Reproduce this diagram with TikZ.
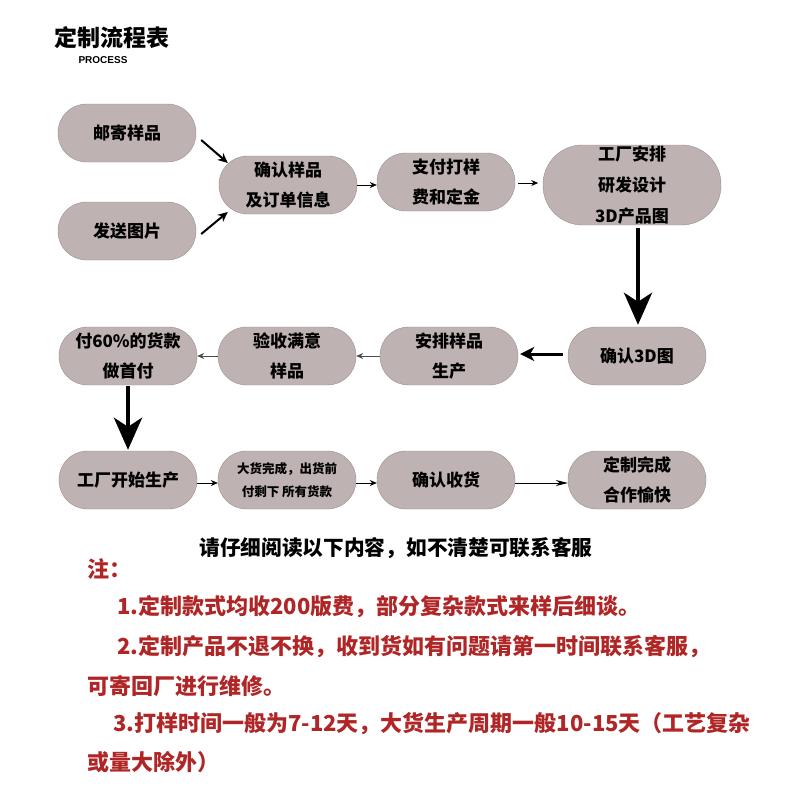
\documentclass[tikz,border=0pt]{standalone}
\usepackage{fontspec}
\setmainfont{Noto Sans CJK SC}
\newfontfamily\latinsans{Liberation Sans}
\usetikzlibrary{arrows.meta,calc}
\definecolor{boxc}{HTML}{BEB2B2}
\definecolor{redt}{HTML}{B02626}
\begin{document}
\begin{tikzpicture}[x=1pt,y=-1pt,
  box/.style={fill=boxc, draw=boxc!80!black, line width=0.4pt, rounded corners=28.5pt,
    minimum width=138pt, minimum height=58pt, align=center, inner sep=0pt,
    font=\fontsize{17}{30}\selectfont\bfseries},
  smalltxt/.style={font=\fontsize{12.5}{23}\selectfont\bfseries},
  thinarr/.style={-{Stealth[length=7pt,width=6pt]}, line width=0.9pt},
  grayarr/.style={-{Stealth[length=7pt,width=6pt]}, line width=0.9pt, draw=black!70},
  medarr/.style={-{Stealth[length=10pt,width=9pt]}, line width=2pt},
  bigarr/.style={-{Stealth[length=32pt,width=28pt,inset=9pt]}, line width=4.5pt},
  leftarr/.style={-{Stealth[length=14pt,width=14pt,inset=4pt]}, line width=3pt},
  redline/.style={anchor=west, inner sep=0pt, text=redt, font=\fontsize{22}{22}\selectfont\bfseries}
]
\useasboundingbox[fill=white] (0,0) rectangle (800,800);

% title
\node[anchor=west, inner sep=0pt, font=\fontsize{23}{23}\selectfont\bfseries] (title) at (54,38) {定制流程表};
\node[inner sep=0pt, font=\latinsans\fontsize{10}{10}\selectfont\bfseries] (proc) at (103,60) {PROCESS};

% row 1
\node[box] (n1) at (127,133) {邮寄样品};
\node[box] (n2) at (127,231) {发送图片};
\node[box] (n3) at (288,185) {确认样品\\及订单信息};
\node[box] (n4) at (446,182) {支付打样\\费和定金};
\node[box, minimum width=178pt, minimum height=80pt, rounded corners=39.5pt,
  font=\fontsize{17}{31}\selectfont\bfseries] (n5) at (632,185) {工厂安排\\研发设计\\3D产品图};

% row 2
\node[box] (n6) at (637,356) {确认3D图};
\node[box] (n7) at (449,356) {安排样品\\生产};
\node[box] (n8) at (287,356) {验收满意\\样品};
\node[box] (n9) at (128,356) {付60\%的货款\\做首付};

% row 3
\node[box] (n10) at (128,480) {工厂开始生产};
\node[box, smalltxt] (n11) at (287,480) {大货完成，出货前\\付剩下 所有货款};
\node[box] (n12) at (446,480) {确认收货};
\node[box] (n13) at (637,480) {定制完成\\合作愉快};

% connectors
\draw[medarr] ($(n1.east)+(5,7)$) -- ($(n3.west)+(9,-22)$);
\draw[medarr] ($(n2.east)+(5,3)$) -- ($(n3.west)+(9,27)$);
\draw[thinarr] (n3.east) -- (n3.east -| n4.west);
\draw[thinarr] ($(n4.east)+(3,1)$) -- ($(n4.east)+(23,1)$) coordinate (a45);
\draw[bigarr] ($(n6.north |- n5.south)+(1,3)$) -- ($(n6.north)+(1,-2)$);
\draw[leftarr] ($(n6.west)+(-5,-2)$) -- ($(n7.east)+(2,-2)$);
\draw[grayarr] (n7.west) -- (n8.east);
\draw[grayarr] (n8.west) -- (n9.east);
\draw[bigarr] ($(n9.south)+(0,1)$) -- ($(n10.north)+(0,-1)$);
\draw[thinarr] ($(n10.east)+(0,3)$) -- ($(n11.west)+(0,3)$);
\draw[thinarr] ($(n11.east)+(0,3)$) -- ($(n12.west)+(0,3)$);
\draw[-{Stealth[length=12pt,width=6pt]}, line width=0.9pt] ($(n12.east)+(0,3)$) -- ($(n13.west)+(0,3)$);

% notes
\node[inner sep=0pt, font=\fontsize{20.7}{21}\selectfont\bfseries] (f0) at (396,548) {请仔细阅读以下内容，如不清楚可联系客服};
\node[redline] (f1) at (87,569) {注：};
\node[redline] (f2) at (117,607) {1.定制款式均收200版费，部分复杂款式来样后细谈。};
\node[redline] (f3) at (117,647) {2.定制产品不退不换，收到货如有问题请第一时间联系客服，};
\node[redline] (f4) at (87,686) {可寄回厂进行维修。};
\node[redline] (f5) at (113,724) {3.打样时间一般为7-12天，大货生产周期一般10-15天（工艺复杂};
\node[redline] (f6) at (87,762) {或量大除外）};
\end{tikzpicture}
\end{document}
